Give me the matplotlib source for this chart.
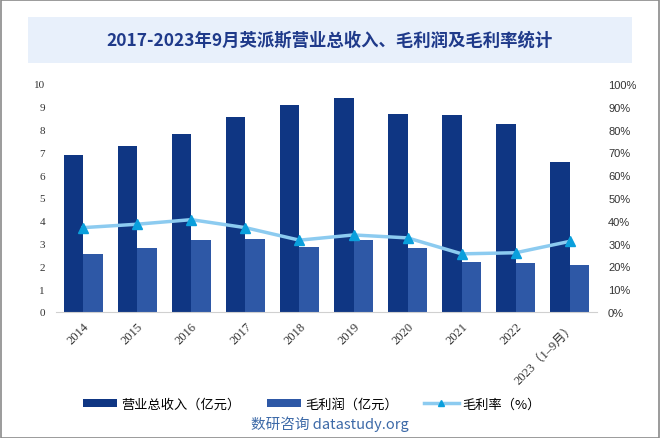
import matplotlib
matplotlib.use("Agg")
import matplotlib.pyplot as plt
import numpy as np
from matplotlib.patches import Rectangle

plt.rcParams['font.family'] = ['Noto Sans CJK SC', 'DejaVu Sans']

categories = ['2014', '2015', '2016', '2017', '2018', '2019', '2020', '2021', '2022', '2023（1–9月）']
revenue = [6.9, 7.3, 7.8, 8.55, 9.1, 9.4, 8.7, 8.65, 8.25, 6.6]
gross_profit = [2.55, 2.82, 3.17, 3.21, 2.86, 3.17, 2.82, 2.2, 2.16, 2.07]
gross_margin = [37.0, 38.5, 40.5, 37.0, 31.5, 33.8, 32.5, 25.5, 26.0, 31.0]
left_ticks = list(range(0, 11))
right_ticks = list(range(0, 101, 10))

title = '2017-2023年9月英派斯营业总收入、毛利润及毛利率统计'
legend_labels = ['营业总收入（亿元）', '毛利润（亿元）', '毛利率（%）']
watermark = '数研咨询 datastudy.org'

c_rev = '#0f3683'
c_gp = '#2e58a6'
c_line = '#8ccbf0'
c_mark = '#0a9fdc'

W, H = 660, 439
fig = plt.figure(figsize=(W / 100, H / 100), dpi=100)

# border
fig.patches.append(Rectangle((0.5 / W, 0.5 / H), 1 - 1.5 / W, 1 - 1.5 / H, transform=fig.transFigure,
                             fill=False, edgecolor='#8a8a8a', linewidth=1.2))
# title box
fig.patches.append(Rectangle((28 / W, 1 - 64 / H), 604 / W, 46 / H, transform=fig.transFigure,
                             facecolor='#e8f0fb', edgecolor='none'))
fig.text(330 / W, 1 - 41 / H, title, ha='center', va='center', fontsize=12.5,
         fontweight='bold', color='#1f3a8a')

ax = fig.add_axes([56 / W, 1 - 313 / H, 541 / W, 228 / H])
x = np.arange(len(categories))
bw = 0.36
ax.bar(x - bw / 2, revenue, bw, color=c_rev, label=legend_labels[0], zorder=2)
ax.bar(x + bw / 2, gross_profit, bw, color=c_gp, label=legend_labels[1], zorder=2)
ax.set_ylim(0, 10)
ax.set_xlim(-0.5, len(categories) - 0.5)
ax.set_yticks(left_ticks)
ax.set_yticklabels([str(v) for v in left_ticks], family=['Liberation Serif', 'DejaVu Serif'], fontsize=8)
ax.set_xticks(x)
ax.set_xticklabels(categories, rotation=45, ha='right', rotation_mode='anchor',
                   family=['Liberation Serif', 'Noto Sans CJK SC'], fontsize=9)
for s in ['top', 'right', 'left']:
    ax.spines[s].set_visible(False)
ax.spines['bottom'].set_color('#d0d0d0')
ax.tick_params(axis='both', length=0, colors='#333333')
ax.tick_params(axis='y', pad=8)
ax.tick_params(axis='x', pad=6)

ax2 = ax.twinx()
ax2.plot(x, gross_margin, color=c_line, linewidth=2.5, marker='^', markersize=7,
         markerfacecolor=c_mark, markeredgecolor=c_mark, label=legend_labels[2], zorder=3)
ax2.set_ylim(0, 100)
ax2.set_yticks(right_ticks)
ax2.set_yticklabels([f'{v}%' for v in right_ticks], family=['Liberation Sans', 'DejaVu Sans'], fontsize=8)
for s in ['top', 'right', 'left', 'bottom']:
    ax2.spines[s].set_visible(False)
ax2.tick_params(axis='y', length=0, colors='#333333', pad=8)

h1, l1 = ax.get_legend_handles_labels()
h2, l2 = ax2.get_legend_handles_labels()
leg = fig.legend(h1 + h2, l1 + l2, loc='center', bbox_to_anchor=(312 / W, 1 - 405 / H), ncol=3,
                 frameon=False, fontsize=9.5, handlelength=2.6, handleheight=0.5,
                 columnspacing=2.0, handletextpad=0.3, markerscale=0.6)

fig.text(330 / W, 1 - 424 / H, watermark, ha='center', va='center', fontsize=10.5, color='#3d6aa8')

fig.savefig('out.png', dpi=100)
